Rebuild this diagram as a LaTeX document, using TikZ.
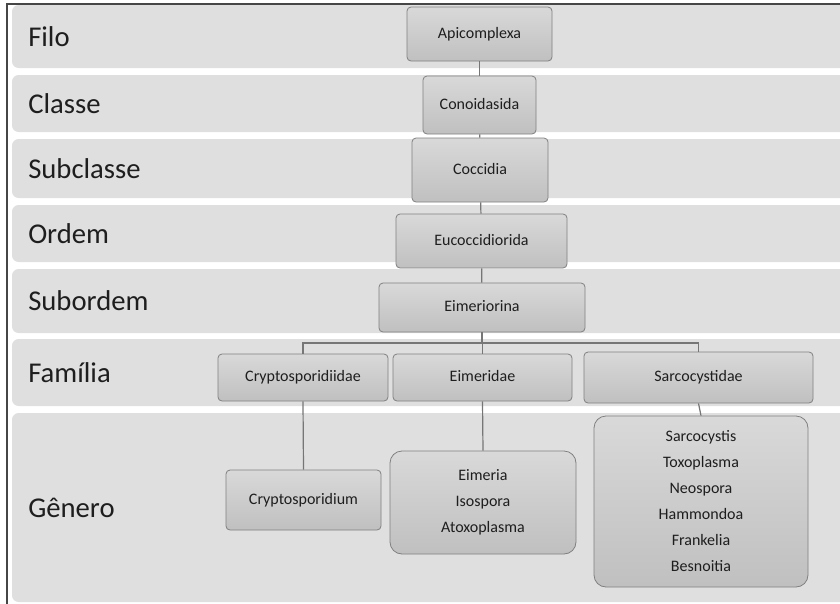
\documentclass[tikz,border=0pt]{standalone}
\usepackage{fontspec}
\setmainfont{Carlito}
\usetikzlibrary{positioning,calc}
\definecolor{BandGray}{RGB}{223,223,223}
\definecolor{BoxGray}{RGB}{204,204,204}
\definecolor{BoxEdge}{RGB}{128,128,128}
\definecolor{LinkGray}{RGB}{118,118,118}
\definecolor{FrameGray}{RGB}{70,70,70}
\definecolor{TextGray}{RGB}{30,30,30}
\tikzset{
    taxonbox/.style={rectangle, rounded corners=3pt, draw=BoxEdge, line width=0.6pt,
        top color=BoxGray!75!white, bottom color=BoxGray!94!black,
        text=TextGray, font=\fontsize{12}{14}\selectfont, inner sep=0pt,
        text height=8.6pt, text depth=2.6pt},
    boxsize/.style 2 args={minimum width=#1*0.75pt, minimum height=#2*0.75pt},
    linkline/.style={draw=LinkGray, line width=0.9pt}
}

\begin{document}
\begin{tikzpicture}[
        x=0.75pt, y=-0.75pt,
        % --- STYLE ---
        % faixa cinza de cada nivel
        bandrow/.style={fill=BandGray, rounded corners=5pt},
        % nome do nivel taxonomico
        ranklabel/.style={anchor=west, inner sep=0pt, text=TextGray,
            font=\fontsize{21.5}{24}\selectfont},
        % caixa com varios generos
        genusbox/.style={taxonbox, rounded corners=9pt, align=center,
            text height=, text depth=, font=\fontsize{12}{19.5}\selectfont}
    ]
        \useasboundingbox (0,0) rectangle (840,604);
        \clip (0,0) rectangle (840,604);

        % --- FAIXAS E NOMES DOS NIVEIS ---
        \foreach \name/\ytop/\ybot/\rank in {filo/5/68/Filo, classe/75/132/Classe,
                subclasse/139/198/Subclasse, ordem/205/262/Ordem, subordem/269/333/Subordem,
                familia/339/406/Família, genero/413/602/Gênero} {
            \fill[bandrow] (12,\ytop) rectangle (860,\ybot);
            \node[ranklabel] (lbl-\name) at (28,{(\ytop+\ybot)/2}) {\rank};
        }

        % moldura
        \draw[FrameGray, line width=0.8pt] (7,606) -- (7,4) -- (842,4);

        % --- CAIXAS ---
        \node[taxonbox, boxsize={145}{54}] (apicomplexa) at (479.5,34) {Apicomplexa};
        \node[taxonbox, boxsize={113}{58}] (conoidasida) at (479.5,105) {Conoidasida};
        \node[taxonbox, boxsize={136}{64}] (coccidia) at (480,170) {Coccidia};
        \node[taxonbox, boxsize={171}{54}] (eucoccidiorida) at (481.5,241) {Eucoccidiorida};
        \node[taxonbox, boxsize={206}{49}] (eimeriorina) at (482,307.5) {Eimeriorina};

        % familias
        \node[taxonbox, boxsize={170}{47}] (cryptofam) at (303,377.5) {Cryptosporidiidae};
        \node[taxonbox, boxsize={179}{47}] (eimfam) at (482.5,377.5) {Eimeridae};
        \node[taxonbox, boxsize={229}{51}] (sarcofam) at (698.5,377.5) {Sarcocystidae};

        % generos
        \node[taxonbox, boxsize={155}{60}] (cryptogen) at (303.5,500) {Cryptosporidium};
        \node[genusbox, boxsize={186}{103}] (eimgen) at (483,502.5)
            {Eimeria\\Isospora\\Atoxoplasma};
        \node[genusbox, boxsize={214}{171}] (sarcogen) at (701,501.5)
            {Sarcocystis\\Toxoplasma\\Neospora\\Hammondoa\\Frankelia\\Besnoitia};

        % --- LIGACOES ---
        \draw[linkline] (apicomplexa) -- (conoidasida);
        \draw[linkline] (conoidasida) -- (coccidia);
        \draw[linkline] (coccidia) -- (eucoccidiorida);
        \draw[linkline] (eucoccidiorida) -- (eimeriorina);

        \coordinate (bus) at (482,343);
        \draw[linkline] (eimeriorina.south) -- (bus);
        \draw[linkline] (cryptofam.north) |- (bus) -| (sarcofam.north);
        \draw[linkline] (eimfam.north) -- (eimfam.north |- bus);

        \draw[linkline] (cryptofam.south) -- (cryptogen.north);
        \draw[linkline] (eimfam.south) -- (eimgen.north);
        \draw[linkline] (sarcofam.south) -- (sarcogen.north);

    \end{tikzpicture}
\end{document}
